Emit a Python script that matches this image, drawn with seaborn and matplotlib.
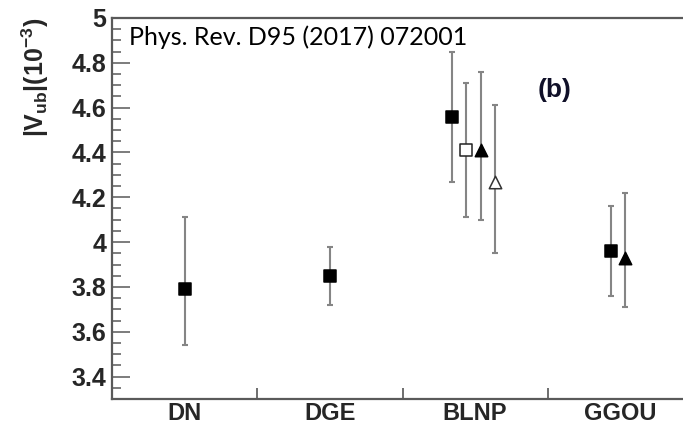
import numpy as np
import pandas as pd
import matplotlib
matplotlib.use("Agg")
import matplotlib.pyplot as plt
import seaborn as sns
from matplotlib.ticker import MultipleLocator, FixedLocator

# |Vub| determinations (units of 1e-3) for each theoretical framework
models = ["DN", "DGE", "BLNP", "GGOU"]

filled_sq_models = ["DN", "DGE", "BLNP", "GGOU"]
filled_sq_val = [3.79, 3.85, 4.56, 3.96]
filled_sq_up = [0.32, 0.13, 0.29, 0.20]
filled_sq_dn = [0.25, 0.13, 0.29, 0.20]

open_sq_models = ["BLNP"]
open_sq_val = [4.41]
open_sq_up = [0.30]
open_sq_dn = [0.30]

filled_tri_models = ["BLNP", "GGOU"]
filled_tri_val = [4.41, 3.93]
filled_tri_up = [0.35, 0.29]
filled_tri_dn = [0.31, 0.22]

open_tri_models = ["BLNP"]
open_tri_val = [4.27]
open_tri_up = [0.34]
open_tri_dn = [0.32]

yticks = [3.4, 3.6, 3.8, 4.0, 4.2, 4.4, 4.6, 4.8, 5.0]
ytick_labels = ["3.4", "3.6", "3.8", "4", "4.2", "4.4", "4.6", "4.8", "5"]

# horizontal shift of each series inside its category bin
offsets = {
    "filled_sq": {"DN": 0.0, "DGE": 0.0, "BLNP": -0.16, "GGOU": -0.065},
    "open_sq": {"BLNP": -0.06},
    "filled_tri": {"BLNP": 0.04, "GGOU": 0.035},
    "open_tri": {"BLNP": 0.135},
}

sns.set_style("white")
plt.rcParams["font.family"] = ["Liberation Sans", "DejaVu Sans"]
plt.rcParams["mathtext.fontset"] = "custom"
plt.rcParams["mathtext.rm"] = "Liberation Sans"
plt.rcParams["mathtext.bf"] = "Liberation Sans:bold"
plt.rcParams["mathtext.it"] = "Liberation Sans:italic"

W, H = 683, 425
fig = plt.figure(figsize=(W / 100, H / 100), dpi=100)
ax = fig.add_axes([112 / W, 1 - 399 / H, 581 / W, 381 / H])

series = [
    ("filled_sq", filled_sq_models, filled_sq_val, filled_sq_up, filled_sq_dn, "s", "black", "black", 66),
    ("open_sq", open_sq_models, open_sq_val, open_sq_up, open_sq_dn, "s", "white", "#222222", 66),
    ("filled_tri", filled_tri_models, filled_tri_val, filled_tri_up, filled_tri_dn, "^", "black", "black", 80),
    ("open_tri", open_tri_models, open_tri_val, open_tri_up, open_tri_dn, "^", "white", "#333333", 80),
]

for key, mods, val, up, dn, mk, face, edge, size in series:
    df = pd.DataFrame({"model": mods, "value": val, "up": up, "dn": dn})
    df["x"] = [models.index(m) + 0.5 + offsets[key][m] for m in mods]
    ax.errorbar(df["x"], df["value"], yerr=[df["dn"], df["up"]], fmt="none",
                ecolor="#858585", elinewidth=1.5, capsize=2.2, capthick=1.5, zorder=2)
    sns.scatterplot(data=df, x="x", y="value", ax=ax, marker=mk, s=size,
                    color=face, edgecolor=edge, linewidth=1.1, zorder=3, legend=False)

ax.set_xlim(0, 4)
ax.set_ylim(3.3, 5.0)
ax.set_xlabel("")
ax.set_ylabel("")

# bin edges carry tick marks, bin centres carry the model names
ax.xaxis.set_major_locator(FixedLocator([1, 2, 3]))
ax.xaxis.set_major_formatter(plt.NullFormatter())
ax.xaxis.set_minor_locator(FixedLocator([i + 0.5 for i in range(len(models))]))
ax.set_xticklabels(models, minor=True, fontsize=17, fontweight="bold")
ax.tick_params(axis="x", which="major", direction="in", length=8, width=1.2,
               color="#555555", top=False, bottom=True)
ax.tick_params(axis="x", which="minor", length=0, pad=2)

ax.set_yticks(yticks)
ax.set_yticklabels(ytick_labels, fontsize=18, fontweight="bold")
ax.yaxis.set_minor_locator(MultipleLocator(0.05))
ax.tick_params(axis="y", which="major", direction="in", length=13, width=1.2,
               color="#666666", pad=4, left=True, right=False)
ax.tick_params(axis="y", which="minor", direction="in", length=6.5, width=1.2,
               color="#666666", left=True, right=False)

for side in ["left", "right", "top", "bottom"]:
    ax.spines[side].set_visible(True)
    ax.spines[side].set_color("#5a5a5a")
    ax.spines[side].set_linewidth(1.6)

fig.text(35 / W, 1 - 18 / H, r"$\mathbf{|V_{ub}|(10^{-3})}$", rotation=90,
         ha="center", va="top", fontsize=18)
fig.text(129 / W, 1 - 45 / H, "Phys. Rev. D95 (2017) 072001", ha="left",
         va="baseline", fontsize=18, family=["Lato", "DejaVu Sans"], color="black")
fig.text(555 / W, 1 - 90 / H, "(b)", ha="center", va="center", fontsize=19,
         fontweight="bold", color="#101028")

fig.savefig("out.png", dpi=100)
